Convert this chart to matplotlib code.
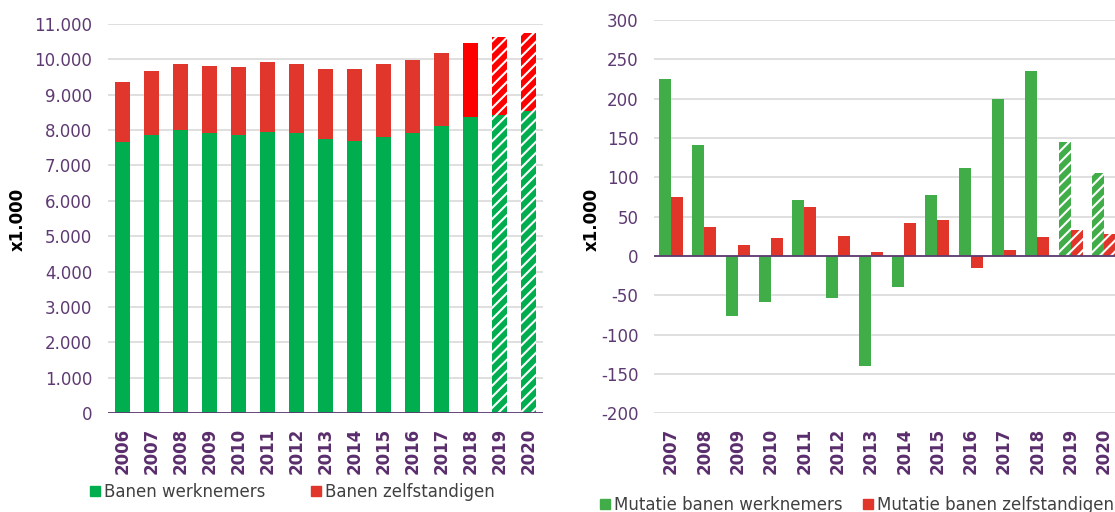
import numpy as np
import matplotlib
matplotlib.use('Agg')
from matplotlib import pyplot as plt
from matplotlib.patches import Patch

# banen (x1.000), links: gestapeld
jaren_links = ['2006', '2007', '2008', '2009', '2010', '2011', '2012', '2013',
               '2014', '2015', '2016', '2017', '2018', '2019', '2020']
werknemers = [7653, 7861, 8003, 7907, 7850, 7946, 7907, 7748, 7700, 7805, 7907, 8105, 8359, 8435, 8548]
zelfstandigen = [1714, 1817, 1873, 1912, 1921, 1978, 1969, 1978, 2026, 2071, 2073, 2081, 2090, 2203, 2203]
prognose_links = [False] * 13 + [True, True]

# mutaties (x1.000), rechts
jaren_rechts = ['2007', '2008', '2009', '2010', '2011', '2012', '2013',
                '2014', '2015', '2016', '2017', '2018', '2019', '2020']
mut_werknemers = [225, 141, -76, -58, 71, -54, -140, -40, 78, 112, 200, 235, 145, 105]
mut_zelfstandigen = [75, 37, 14, 23, 62, 25, 5, 42, 46, -15, 8, 24, 33, 28]
prognose_rechts = [False] * 12 + [True, True]

PAARS = '#5E3A72'
JAAR_PAARS = '#5A2D6C'
GRID = '#D9D9D9'
GROEN_L = '#00AE50'
ROOD_L = '#E1362B'
ROOD_2018 = '#FF0000'
GROEN_R = '#41AD49'
ROOD_R = '#E1352A'

plt.rcParams['font.family'] = ['DejaVu Sans']
plt.rcParams['hatch.linewidth'] = 1.5
plt.rcParams['axes.unicode_minus'] = False

fig = plt.figure(figsize=(11.15, 5.12), dpi=100)


def opmaak(ax, labels):
    ax.set_xticks(range(len(labels)))
    ax.set_xticklabels(labels, rotation=90, fontsize=12, fontweight='bold',
                       color=JAAR_PAARS, va='top', ha='center')
    ax.tick_params(axis='x', length=0, pad=10.5)
    ax.tick_params(axis='y', length=0, pad=11.5, labelsize=12, labelcolor=PAARS)
    for s in ['top', 'right', 'left', 'bottom']:
        ax.spines[s].set_visible(False)
    ax.yaxis.grid(True, color=GRID, linewidth=1.2)
    ax.set_axisbelow(True)


# ---- links ----
ax1 = fig.add_axes([108 / 1115, 99 / 512, 435 / 1115, 389 / 512])
x = np.arange(len(jaren_links))
for i in range(len(x)):
    rood = ROOD_2018 if jaren_links[i] == '2018' else ROOD_L
    if prognose_links[i]:
        ax1.bar(x[i], werknemers[i], 0.52, color=GROEN_L, edgecolor='white',
                linewidth=0, hatch='///')
        ax1.bar(x[i], zelfstandigen[i], 0.52, bottom=werknemers[i], color=ROOD_2018,
                edgecolor='white', linewidth=0, hatch='///')
    else:
        ax1.bar(x[i], werknemers[i], 0.52, color=GROEN_L, linewidth=0)
        ax1.bar(x[i], zelfstandigen[i], 0.52, bottom=werknemers[i], color=rood,
                linewidth=0)
ax1.axhline(0, color=PAARS, linewidth=1.3)
ax1.set_xlim(-0.5, len(x) - 0.5)
ax1.set_ylim(0, 11000)
ax1.set_yticks(range(0, 11001, 1000))
ax1.set_yticklabels(['0'] + [f'{v // 1000}.000' for v in range(1000, 11001, 1000)])
opmaak(ax1, jaren_links)

fig.legend(handles=[Patch(color=GROEN_L, label='Banen werknemers'),
                    Patch(color=ROOD_L, label='Banen zelfstandigen')],
           loc='center left', bbox_to_anchor=(90 / 1115, 20 / 512), ncol=2,
           frameon=False, fontsize=12, handlelength=0.6, handleheight=0.6,
           handletextpad=0.25, columnspacing=2.7, borderpad=0, borderaxespad=0,
           labelcolor='#404040')
fig.text(18 / 1115, 1 - 219 / 512, 'x1.000', rotation=90, fontsize=12,
         fontweight='bold', ha='center', va='center')

# ---- rechts ----
ax2 = fig.add_axes([654.4 / 1115, 98.7 / 512, 466.2 / 1115, 393.3 / 512])
x2 = np.arange(len(jaren_rechts))
for i in range(len(x2)):
    if prognose_rechts[i]:
        ax2.bar(x2[i] - 0.18, mut_werknemers[i], 0.36, color=GROEN_R,
                edgecolor='white', linewidth=0, hatch='///')
        ax2.bar(x2[i] + 0.18, mut_zelfstandigen[i], 0.36, color=ROOD_R,
                edgecolor='white', linewidth=0, hatch='///')
    else:
        ax2.bar(x2[i] - 0.18, mut_werknemers[i], 0.36, color=GROEN_R, linewidth=0)
        ax2.bar(x2[i] + 0.18, mut_zelfstandigen[i], 0.36, color=ROOD_R, linewidth=0)
ax2.axhline(0, color=PAARS, linewidth=1.3)
ax2.set_xlim(-0.5, len(x2) - 0.5)
ax2.set_ylim(-200, 300)
ax2.set_yticks(range(-200, 301, 50))
opmaak(ax2, jaren_rechts)

fig.legend(handles=[Patch(color=GROEN_R, label='Mutatie banen werknemers'),
                    Patch(color=ROOD_R, label='Mutatie banen zelfstandigen')],
           loc='center left', bbox_to_anchor=(600 / 1115, 7 / 512), ncol=2,
           frameon=False, fontsize=12, handlelength=0.6, handleheight=0.6,
           handletextpad=0.25, columnspacing=1.2, borderpad=0, borderaxespad=0,
           labelcolor='#404040')
fig.text(592 / 1115, 1 - 219 / 512, 'x1.000', rotation=90, fontsize=12,
         fontweight='bold', ha='center', va='center')

fig.savefig('out.png', dpi=100)
